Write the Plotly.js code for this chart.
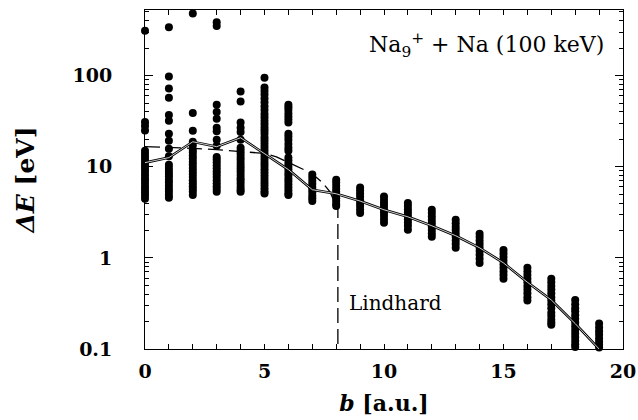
<!DOCTYPE html>
<html>
<head>
<meta charset="utf-8">
<script src="https://cdn.plot.ly/plotly-3.0.1.min.js"></script>
<style>html,body{margin:0;padding:0;background:#fff;}#chart{width:638px;height:420px;}</style>
</head>
<body>
<div id="chart"></div>
<script>
// impact parameter b [a.u.] for each column of simulated events
const bColumns = [0,1,2,3,4,5,6,7,8,9,10,11,12,13,14,15,16,17,18,19];
// energy transfer ΔE [eV] of the individual events, one list per column
const dE_events = [
  [310, 31, 28, 25, 15.0, 13.9, 12.9, 11.9, 11.0, 10.2, 9.5, 8.8, 8.1, 7.5, 7.0, 6.5, 6.0, 5.6, 5.2, 4.8, 4.45],
  [340, 98, 72, 57, 37, 32, 23, 19.3, 15.8, 13.0, 10.5, 9.7, 9.0, 8.4, 7.8, 7.2, 6.7, 6.2, 5.7, 5.3, 4.9, 4.56],
  [480, 39, 24.9, 18.8, 17.2, 15.4, 14.3, 13.2, 12.2, 11.3, 10.5, 9.7, 9.0, 8.3, 7.7, 7.1, 6.6, 6.1, 5.7, 5.3, 4.9],
  [385, 350, 48, 40, 33.6, 26.8, 24.5, 19.8, 17.0, 12.8, 12.0, 11.2, 10.4, 9.6, 8.9, 8.3, 7.7, 7.1, 6.6, 6.1, 5.7, 5.3],
  [67, 52, 30.5, 26.8, 24, 19.8, 16.2, 15.0, 13.9, 12.8, 11.9, 11.0, 10.2, 9.5, 8.8, 8.1, 7.5, 7.0, 6.5, 6.0, 5.6, 5.3],
  [95, 74, 68, 62, 56, 51, 46, 42, 38, 35, 32, 29.5, 27, 25, 23, 21, 19.4, 17.9, 16.5, 15.2, 14.0, 12.9, 11.9, 11.0, 10.2, 9.4, 8.7, 8.0, 7.4, 6.8, 6.3, 5.8, 5.4, 5.1],
  [48, 45, 42, 38.5, 35.5, 33, 30.5, 23, 21.4, 19.6, 17.8, 16.2, 15.0, 12.6, 11.7, 10.8, 10.0, 9.3, 8.6, 8.0, 7.4, 6.9, 6.4, 5.9, 5.5, 5.1, 4.9],
  [8.2, 7.6, 7.0, 6.5, 6.0, 5.6, 5.2, 4.8, 4.5, 4.2],
  [7.2, 6.7, 6.2, 5.7, 5.3, 4.9, 4.5, 4.2, 3.9, 3.7],
  [5.9, 5.5, 5.1, 4.7, 4.3, 4.0, 3.7, 3.4, 3.1],
  [4.7, 4.35, 4.0, 3.7, 3.4, 3.15, 2.9, 2.65, 2.43],
  [4.0, 3.7, 3.4, 3.15, 2.9, 2.65, 2.45, 2.25, 2.03],
  [3.37, 3.1, 2.85, 2.6, 2.4, 2.2, 2.02, 1.85, 1.70],
  [2.62, 2.4, 2.2, 2.02, 1.85, 1.7, 1.55, 1.42, 1.29],
  [1.84, 1.69, 1.55, 1.42, 1.3, 1.19, 1.08, 0.98, 0.88],
  [1.22, 1.12, 1.02, 0.93, 0.85, 0.78, 0.71, 0.65, 0.59],
  [0.78, 0.71, 0.65, 0.59, 0.54, 0.49, 0.45, 0.41, 0.37, 0.34],
  [0.59, 0.54, 0.49, 0.45, 0.41, 0.37, 0.34, 0.31, 0.28, 0.25, 0.23, 0.21, 0.195, 0.184],
  [0.345, 0.31, 0.28, 0.26, 0.235, 0.215, 0.195, 0.178, 0.162, 0.148, 0.135, 0.123, 0.113, 0.105],
  [0.19, 0.172, 0.157, 0.143, 0.13, 0.12, 0.111, 0.104]
];
// mean energy transfer per column (solid line)
const dE_mean = [11.1, 12.6, 18.8, 16.6, 20.8, 13.9, 9.3, 5.6, 5.05, 4.2, 3.37, 2.82, 2.25, 1.75, 1.29, 0.88, 0.54, 0.345, 0.19, 0.1];
// Lindhard estimate (dashed line)
const lindhard_b  = [0, 1, 2, 3, 4, 5, 5.5, 5.93, 6.35, 6.8, 7.18, 7.45, 7.74, 7.95, 8.07, 8.07];
const lindhard_dE = [16.6, 16.3, 15.9, 15.4, 14.6, 14.0, 12.8, 11.4, 10.2, 8.9, 7.6, 6.6, 5.3, 3.9, 3.4, 0.1];

const tickFont = {family: 'DejaVu Serif', size: 19, color: '#000', weight: 'bold'};

const evX = [], evY = [];
bColumns.forEach((b, i) => { dE_events[i].forEach(v => { evX.push(b); evY.push(v); }); });

const traces = [
  {x: evX, y: evY, type: 'scatter', mode: 'markers', cliponaxis: false,
   marker: {color: '#000', size: 8}, hoverinfo: 'x+y'},
  {x: lindhard_b, y: lindhard_dE, type: 'scatter', mode: 'lines',
   line: {color: '#000', width: 1.3, dash: '15px,6px'}},
  {x: bColumns, y: dE_mean, type: 'scatter', mode: 'lines',
   line: {color: '#000', width: 2.6}},
  {x: bColumns, y: dE_mean, type: 'scatter', mode: 'lines',
   line: {color: '#fff', width: 0.8}}
];

const minorY = [];
[0.1, 1, 10, 100].forEach(d => { for (let k = 2; k <= 9; k++) minorY.push(k * d); });

const layout = {
  width: 638, height: 420,
  margin: {l: 145, r: 15, t: 10, b: 71},
  paper_bgcolor: '#fff', plot_bgcolor: '#fff',
  showlegend: false,
  xaxis: {
    range: [0, 20], showgrid: false, zeroline: false,
    showline: true, linecolor: '#000', linewidth: 1, mirror: 'ticks',
    ticks: 'inside', ticklen: 5, tickcolor: '#000',
    tickvals: [0, 5, 10, 15, 20], ticktext: ['0', '5', '10', '15', '20'],
    tickfont: tickFont, ticklabelstandoff: 5,
    minor: {dtick: 1, ticks: 'inside', ticklen: 5, tickcolor: '#000'},
    title: {text: '<b><i>b</i> [a.u.]</b>', font: {family: 'DejaVu Serif', size: 22, color: '#000'}, standoff: 14}
  },
  yaxis: {
    type: 'log', range: [-1, 2.72], showgrid: false, zeroline: false,
    showline: true, linecolor: '#000', linewidth: 1, mirror: 'ticks',
    ticks: 'inside', ticklen: 8, tickcolor: '#000',
    tickvals: [0.1, 1, 10, 100], ticktext: ['0.1', '1', '10', '100'],
    tickfont: tickFont, ticklabelstandoff: 28,
    minor: {tickmode: 'array', tickvals: minorY, ticks: 'inside', ticklen: 4, tickcolor: '#000'},
    title: {text: '<b><i>ΔE</i> [eV]</b>', font: {family: 'DejaVu Serif', size: 25, color: '#000'}, standoff: 30}
  },
  annotations: [
    {xref: 'paper', yref: 'paper', x: 0.964, y: 0.897, xanchor: 'right', yanchor: 'middle',
     showarrow: false, text: 'Na<sub>9</sub><sup>+</sup> + Na (100 keV)',
     font: {family: 'DejaVu Serif', size: 22, color: '#000'}},
    {xref: 'x', yref: 'y', x: 8.45, y: Math.log10(0.32), xanchor: 'left', yanchor: 'middle',
     showarrow: false, text: 'Lindhard',
     font: {family: 'DejaVu Serif', size: 20, color: '#000'}}
  ]
};

Plotly.newPlot('chart', traces, layout, {displayModeBar: false, staticPlot: true});
</script>
</body>
</html>
